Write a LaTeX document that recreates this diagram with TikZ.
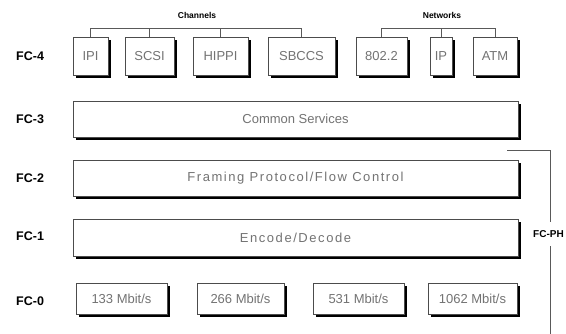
\documentclass[tikz,border=0pt]{standalone}
\usepackage{fontspec}
\setmainfont{Liberation Sans}
\newfontfamily\widefont[LetterSpace=12]{Liberation Sans}
\usetikzlibrary{shadows}

\tikzset{
  layerbox/.style={draw=black!70, line width=0.8pt, fill=white, inner sep=0pt,
    text=black!55, font=\fontsize{13}{15}\selectfont,
    drop shadow={shadow xshift=2.6pt, shadow yshift=-2.6pt, fill=black, opacity=1}},
  widetext/.style={font=\widefont\fontsize{13}{15}\selectfont},
  levellabel/.style={anchor=west, inner sep=0pt, font=\bfseries\fontsize{12.5}{14}\selectfont},
  grouplabel/.style={inner sep=0pt, font=\bfseries\fontsize{8.5}{10}\selectfont},
  bracket/.style={draw=black!65, line width=0.7pt}
}

\begin{document}
\begin{tikzpicture}[x=1pt, y=-1pt]
\useasboundingbox (0,0) rectangle (566,334);

% level labels
\node[levellabel] (l4) at (16,56)  {FC-4};
\node[levellabel] (l3) at (16,119) {FC-3};
\node[levellabel] (l2) at (16,178) {FC-2};
\node[levellabel] (l1) at (16,236) {FC-1};
\node[levellabel] (l0) at (16,301) {FC-0};

% FC-4: upper level protocols
\node[layerbox, minimum width=35pt, minimum height=38pt] (ipi)   at (90.5,56)  {IPI};
\node[layerbox, minimum width=49pt, minimum height=38pt] (scsi)  at (149.5,56) {SCSI};
\node[layerbox, minimum width=55pt, minimum height=38pt] (hippi) at (220.5,56) {HIPPI};
\node[layerbox, minimum width=67pt, minimum height=38pt] (sbccs) at (301.5,56) {SBCCS};
\node[layerbox, minimum width=51pt, minimum height=38pt] (llc)   at (381.5,56) {802.2};
\node[layerbox, minimum width=22pt, minimum height=38pt] (ip)    at (441,56)   {IP};
\node[layerbox, minimum width=44pt, minimum height=38pt] (atm)   at (495,56)   {ATM};

% group headings with their brackets
\node[grouplabel] (chan) at (197,15) {Channels};
\node[grouplabel] (net)  at (442,15) {Networks};
\coordinate (bar) at (0,28);
\draw[bracket] (ipi.north) -- (ipi.north |- bar) -- (sbccs.north |- bar) -- (sbccs.north);
\draw[bracket] (scsi.north) -- (scsi.north |- bar);
\draw[bracket] (hippi.north) -- (hippi.north |- bar);
\draw[bracket] (llc.north) -- (llc.north |- bar) -- (atm.north |- bar) -- (atm.north);
\draw[bracket] (ip.north) -- (ip.north |- bar);

% FC-3 .. FC-1
\node[layerbox, minimum width=445pt, minimum height=36pt] (fc3) at (295.5,119) {Common Services};
\node[layerbox, widetext, minimum width=445pt, minimum height=36pt] (fc2) at (295.5,178) {Framing Protocol/Flow Control};
\node[layerbox, widetext, minimum width=445pt, minimum height=37pt] (fc1) at (295.5,237.5) {Encode/Decode};

% FC-0: physical link speeds
\node[layerbox, minimum width=91pt, minimum height=31pt] (s133)  at (121.5,298.5) {133 Mbit/s};
\node[layerbox, minimum width=87pt, minimum height=31pt] (s266)  at (240.5,298.5) {266 Mbit/s};
\node[layerbox, minimum width=91pt, minimum height=31pt] (s531)  at (358.5,298.5) {531 Mbit/s};
\node[layerbox, minimum width=89pt, minimum height=31pt] (s1062) at (472.5,298.5) {1062 Mbit/s};

% FC-PH bracket spanning FC-2 to FC-0
\node[anchor=west, inner sep=0pt, minimum height=24pt, font=\bfseries\fontsize{10}{12}\selectfont] (fcph) at (533,234) {FC-PH};
\coordinate (phtop) at (507,150);
\coordinate (phcorner) at (550,150);
\coordinate (phbot) at (550,334);
\draw[bracket] (phtop) -- (phcorner) -- (phcorner |- fcph.north);
\draw[bracket] (phbot |- fcph.south) -- (phbot);
\end{tikzpicture}
\end{document}
